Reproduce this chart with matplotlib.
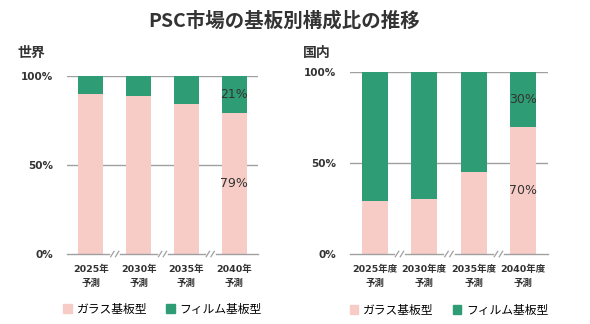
import matplotlib
matplotlib.use("Agg")
import matplotlib.pyplot as plt
from matplotlib.patches import Patch

plt.rcParams['font.family'] = ['Noto Sans CJK JP', 'DejaVu Sans']

title = "PSC市場の基板別構成比の推移"
series_names = ["ガラス基板型", "フィルム基板型"]

world_title = "世界"
world_cats = ["2025年\n予測", "2030年\n予測", "2035年\n予測", "2040年\n予測"]
world_glass = [90, 89, 84, 79]
world_film = [10, 11, 16, 21]

jp_title = "国内"
jp_cats = ["2025年度\n予測", "2030年度\n予測", "2035年度\n予測", "2040年度\n予測"]
jp_glass = [29, 30, 45, 70]
jp_film = [71, 70, 55, 30]

yticks = [0, 50, 100]
ytick_labels = ["0%", "50%", "100%"]

PINK = "#F8CCC6"
GREEN = "#2E9C74"
GRID = "#A0A0A0"
TXT = "#333333"
LATIN = ['DejaVu Sans', 'Noto Sans CJK JP']

fig = plt.figure(figsize=(5.9, 3.24), dpi=100)
fig.text(0.482, 0.937, title, ha="center", va="center", fontsize=14,
         fontweight="bold", color=TXT)


def draw(ax, cats, glass, film, label_idx):
    x = list(range(len(cats)))
    ax.bar(x, glass, width=0.52, color=PINK, zorder=2)
    ax.bar(x, film, width=0.52, bottom=glass, color=GREEN, zorder=2)
    ax.set_xlim(-0.5, 3.5)
    ax.set_ylim(0, 100)
    for s in ax.spines.values():
        s.set_visible(False)
    for yv in yticks[1:]:
        ax.axhline(yv, color=GRID, lw=1.0, zorder=1)
    # bottom axis with break marks
    segs = [(-0.5, 0.38), (0.62, 1.38), (1.62, 2.38), (2.62, 3.5)]
    for a, b in segs:
        ax.plot([a, b], [0, 0], color=GRID, lw=1.0, clip_on=False, zorder=3)
    for m in [0.5, 1.5, 2.5]:
        for dx in (-0.05, 0.05):
            ax.plot([m + dx - 0.035, m + dx + 0.035], [-1.5, 1.5],
                    color=GRID, lw=0.9, clip_on=False, zorder=3)
    ax.set_yticks(yticks)
    ax.set_yticklabels(ytick_labels, fontsize=7.5, fontweight="bold",
                       color=TXT, family=LATIN)
    ax.set_xticks(x)
    ax.set_xticklabels(cats, fontsize=6.8, fontweight="bold", color=TXT,
                       linespacing=1.6, family=LATIN)
    ax.tick_params(axis="y", length=0, pad=10)
    ax.tick_params(axis="x", length=0, pad=8)
    i = label_idx
    ax.text(x[i], glass[i] / 2, f"{glass[i]}%", ha="center", va="center",
            fontsize=9, color=TXT, zorder=4, family=LATIN)
    ax.text(x[i], glass[i] + film[i] / 2, f"{film[i]}%", ha="center",
            va="center", fontsize=9, color=TXT, zorder=4, family=LATIN)
    handles = [Patch(color=PINK), Patch(color=GREEN)]
    ax.legend(handles, series_names, loc="upper center",
              bbox_to_anchor=(0.5, -0.215), ncol=2, frameon=False,
              fontsize=8.5, handlelength=0.75, handleheight=0.75,
              handletextpad=0.4, columnspacing=1.6)


ax1 = fig.add_axes([0.1136, 0.216, 0.3237, 0.5494])
draw(ax1, world_cats, world_glass, world_film, 3)
fig.text(0.030, 0.837, world_title, ha="left", va="center", fontsize=10,
         fontweight="bold", color=TXT)

ax2 = fig.add_axes([0.5932, 0.216, 0.3356, 0.5617])
draw(ax2, jp_cats, jp_glass, jp_film, 3)
fig.text(0.513, 0.837, jp_title, ha="left", va="center", fontsize=10,
         fontweight="bold", color=TXT)

fig.savefig("out.png", dpi=100)
